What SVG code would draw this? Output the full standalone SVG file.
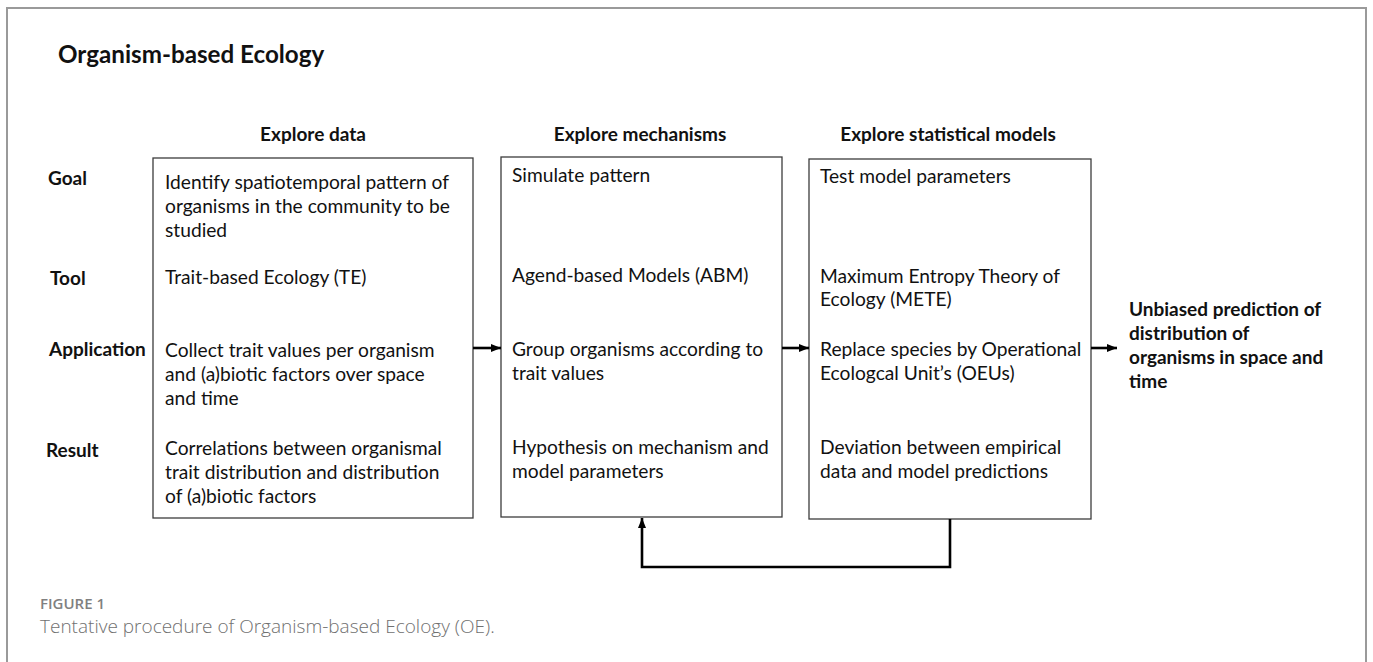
<svg xmlns="http://www.w3.org/2000/svg" width="1373" height="662" viewBox="0 0 1373 662">
  <style>
    .frame { fill: none; stroke: #9a9a9a; stroke-width: 2; }
    .box { fill: #ffffff; stroke: #3c3c3c; stroke-width: 1.3; }
    .t { font-family: Lato, "Open Sans", sans-serif; font-size: 19.2px; fill: #111111; }
    .b { font-family: Lato, "Open Sans", sans-serif; font-size: 19px; font-weight: bold; fill: #111111; }
    .h { font-family: Lato, "Open Sans", sans-serif; font-size: 19px; font-weight: bold; fill: #111111; text-anchor: middle; }
    .title { font-family: Lato, "Open Sans", sans-serif; font-size: 24.2px; font-weight: bold; fill: #111111; }
    .capl { font-family: "Open Sans", sans-serif; font-size: 15px; font-weight: 600; fill: #808080; }
    .cap { font-family: "Open Sans", sans-serif; font-size: 19px; font-weight: 300; fill: #707070; }
    .conn { fill: none; stroke: #000000; stroke-width: 2.6; }
  </style>
  <defs>
    <marker id="ah" markerUnits="userSpaceOnUse" markerWidth="11" markerHeight="10" refX="10" refY="5" orient="auto">
      <path d="M0,1 L10,5 L0,9 Z" fill="#000000"/>
    </marker>
  </defs>
  <rect width="1373" height="662" fill="#ffffff"/>
  <rect class="frame" x="7" y="8" width="1359" height="680"/>

  <text class="title" x="58" y="63">Organism-based Ecology</text>

  <g id="row-labels">
    <text class="b" x="48" y="185">Goal</text>
    <text class="b" x="50" y="285">Tool</text>
    <text class="b" x="49" y="356">Application</text>
    <text class="b" x="46" y="457">Result</text>
  </g>

  <g id="headings">
    <text class="h" x="313" y="141">Explore data</text>
    <text class="h" x="640" y="141">Explore mechanisms</text>
    <text class="h" x="948" y="141">Explore statistical models</text>
  </g>

  <g id="explore-data">
    <rect class="box" x="153" y="158" width="320" height="360"/>
    <text class="t" x="165" y="189">Identify spatiotemporal pattern of</text>
    <text class="t" x="165" y="213">organisms in the community to be</text>
    <text class="t" x="165" y="237">studied</text>
    <text class="t" x="165" y="284">Trait-based Ecology (TE)</text>
    <text class="t" x="165" y="357">Collect trait values per organism</text>
    <text class="t" x="165" y="381">and (a)biotic factors over space</text>
    <text class="t" x="165" y="405">and time</text>
    <text class="t" x="165" y="455">Correlations between organismal</text>
    <text class="t" x="165" y="479">trait distribution and distribution</text>
    <text class="t" x="165" y="503">of (a)biotic factors</text>
  </g>

  <g id="explore-mechanisms">
    <rect class="box" x="501" y="157" width="281" height="360"/>
    <text class="t" x="512" y="182">Simulate pattern</text>
    <text class="t" x="512" y="282">Agend-based Models (ABM)</text>
    <text class="t" x="512" y="356">Group organisms according to</text>
    <text class="t" x="512" y="380">trait values</text>
    <text class="t" x="512" y="454">Hypothesis on mechanism and</text>
    <text class="t" x="512" y="478">model parameters</text>
  </g>

  <g id="explore-statistical-models">
    <rect class="box" x="809" y="159" width="282" height="360"/>
    <text class="t" x="820" y="183">Test model parameters</text>
    <text class="t" x="820" y="283">Maximum Entropy Theory of</text>
    <text class="t" x="820" y="306">Ecology (METE)</text>
    <text class="t" x="820" y="356">Replace species by Operational</text>
    <text class="t" x="820" y="380">Ecologcal Unit’s (OEUs)</text>
    <text class="t" x="820" y="454">Deviation between empirical</text>
    <text class="t" x="820" y="478">data and model predictions</text>
  </g>

  <g id="outcome">
    <text class="b" x="1129" y="316">Unbiased prediction of</text>
    <text class="b" x="1129" y="340">distribution of</text>
    <text class="b" x="1129" y="364">organisms in space and</text>
    <text class="b" x="1129" y="388">time</text>
  </g>

  <g id="connectors">
    <line class="conn" x1="473" y1="348" x2="501" y2="348" marker-end="url(#ah)"/>
    <line class="conn" x1="782" y1="348" x2="809" y2="348" marker-end="url(#ah)"/>
    <line class="conn" x1="1091" y1="348" x2="1117" y2="348" marker-end="url(#ah)"/>
    <path class="conn" d="M950,519 V567 H642 V518" marker-end="url(#ah)"/>
  </g>

  <g id="caption">
    <text class="capl" x="40" y="609">FIGURE 1</text>
    <text class="cap" x="40" y="633">Tentative procedure of Organism-based Ecology (OE).</text>
  </g>
</svg>
